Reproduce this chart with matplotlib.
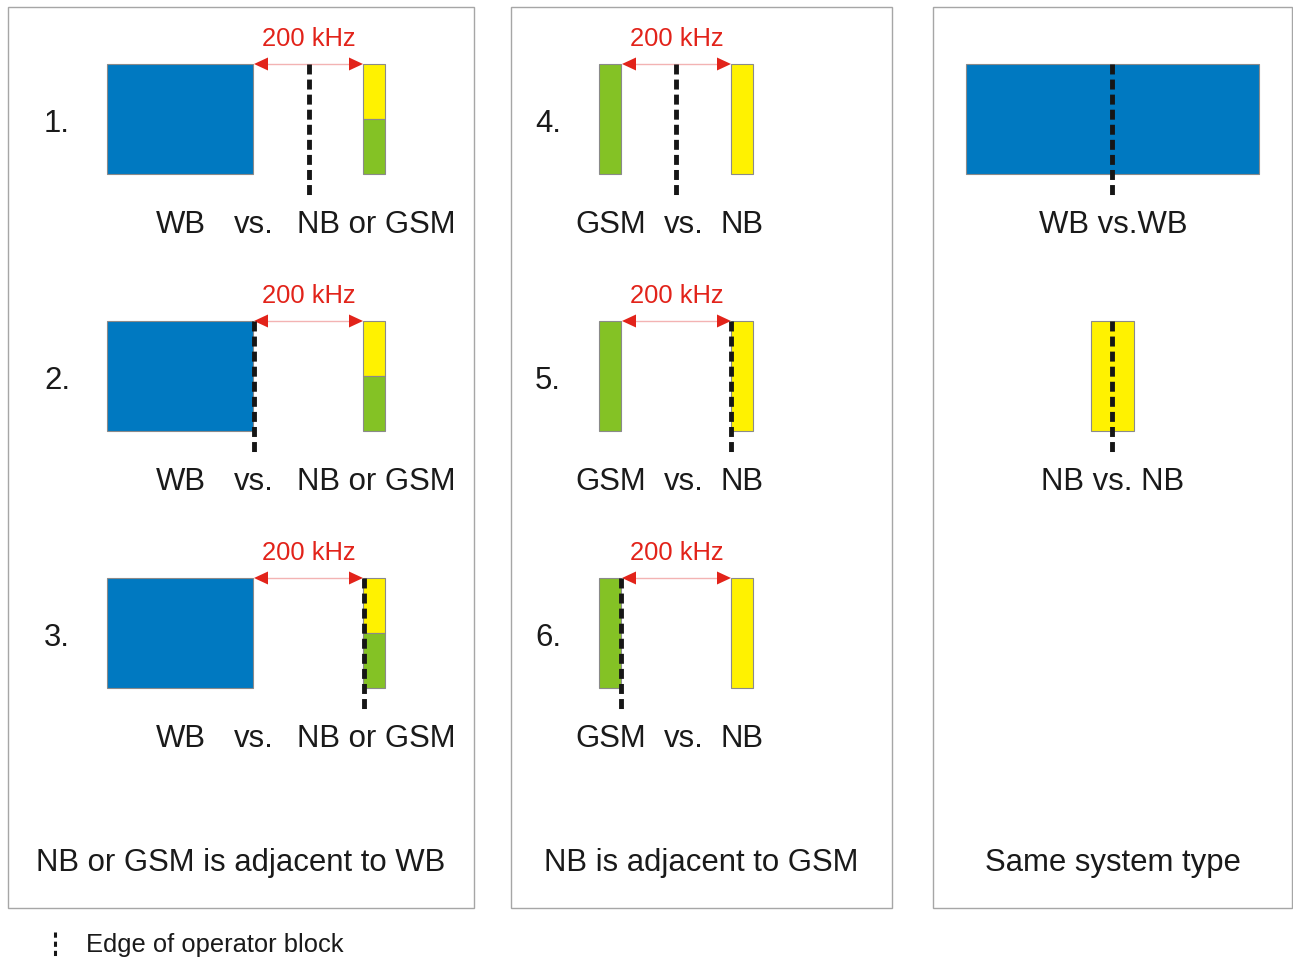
import matplotlib.pyplot as plt
from matplotlib.patches import Rectangle, Polygon

plt.rcParams['font.family'] = ['Liberation Sans', 'DejaVu Sans']

# colours
BLUE = '#0079c1'
YELLOW = '#fff200'
GREEN = '#84c225'
RED = '#e2231a'
PINK = '#f3b3b3'
EDGE = '#8a8a8a'
TXT = '#1a1a1a'

# layout data (pixel coordinates, y downwards)
panels = [(8, 7, 474, 908), (511, 7, 892, 908), (933, 7, 1292, 908)]
panel_titles = ['NB or GSM is adjacent to WB', 'NB is adjacent to GSM', 'Same system type']
row_tops = [64, 321, 578]
block_h = 110
dash_extra = 21
big = 22.4
small = 18.4

# panel 1: WB vs NB/GSM
p1_numbers = ['1.', '2.', '3.']
p1_edges = [309, 254, 364]
wb_x = (107, 253)
nbg_x = (363, 385)

# panel 2: GSM vs NB
p2_numbers = ['4.', '5.', '6.']
p2_edges = [676, 731, 621]
gsm_x = (599, 621)
nb_x = (731, 753)

fig = plt.figure(figsize=(12.93, 9.58), dpi=100)
ax = fig.add_axes([0, 0, 1, 1])
ax.set_xlim(0, 1293)
ax.set_ylim(958, 0)
ax.axis('off')


def rect(x0, x1, y0, y1, c):
    ax.add_patch(Rectangle((x0, y0), x1 - x0, y1 - y0, facecolor=c, edgecolor=EDGE, lw=0.8, zorder=2))


def edge_line(x, y0, y1):
    # 5 px wide, 10 px dash, ~5 px gap
    ax.plot([x, x], [y0, y1], color='#161616', lw=3.5, dashes=(2.05, 1.05), solid_capstyle='butt',
            dash_capstyle='butt', zorder=4)


def label(x, y, s, size=big, ha='center', color=TXT):
    ax.text(x, y + 5, s, fontsize=size, ha=ha, va='center', color=color)


def span_arrow(x0, x1, y, s):
    ax.plot([x0 + 12, x1 - 12], [y, y], color=PINK, lw=1.0, zorder=3)
    for tip, d in [(x0, 1), (x1, -1)]:
        ax.add_patch(Polygon([(tip, y), (tip + d * 14, y - 6.5), (tip + d * 14, y + 6.5)],
                             closed=True, facecolor=RED, edgecolor='none', zorder=3))
    label((x0 + x1) / 2, y - 30, s, size=small, color=RED)


# panel frames + titles
for (x0, y0, x1, y1), t in zip(panels, panel_titles):
    ax.add_patch(Rectangle((x0, y0), x1 - x0, y1 - y0, facecolor='none', edgecolor='#a6a6a6', lw=1.0))
    label((x0 + x1) / 2, 858, t)

# panel 1
for top, num, ex in zip(row_tops, p1_numbers, p1_edges):
    bot = top + block_h
    mid = top + block_h / 2
    rect(wb_x[0], wb_x[1], top, bot, BLUE)
    rect(nbg_x[0], nbg_x[1], top, mid, YELLOW)
    rect(nbg_x[0], nbg_x[1], mid, bot, GREEN)
    span_arrow(wb_x[1] + 1, nbg_x[0], top, '200 kHz')
    edge_line(ex, top, bot + dash_extra)
    label(57, mid, num)
    label(181, top + 156, 'WB')
    label(254, top + 156, 'vs.')
    label(297, top + 156, 'NB or GSM', ha='left')

# panel 2
for top, num, ex in zip(row_tops, p2_numbers, p2_edges):
    bot = top + block_h
    mid = top + block_h / 2
    rect(gsm_x[0], gsm_x[1], top, bot, GREEN)
    rect(nb_x[0], nb_x[1], top, bot, YELLOW)
    span_arrow(gsm_x[1] + 1, nb_x[0], top, '200 kHz')
    edge_line(ex, top, bot + dash_extra)
    label(548, mid, num)
    label(611, top + 156, 'GSM')
    label(684, top + 156, 'vs.')
    label(742, top + 156, 'NB')

# panel 3
rect(966, 1259, row_tops[0], row_tops[0] + block_h, BLUE)
edge_line(1112, row_tops[0], row_tops[0] + block_h + dash_extra)
label(1113, row_tops[0] + 156, 'WB vs.WB')
rect(1091, 1134, row_tops[1], row_tops[1] + block_h, YELLOW)
edge_line(1112, row_tops[1], row_tops[1] + block_h + dash_extra)
label(1113, row_tops[1] + 156, 'NB vs. NB')

# legend
ax.plot([55, 55], [932, 958], color='#161616', lw=2.2, dashes=(1.7, 1.3), dash_capstyle='butt')
label(86, 940, 'Edge of operator block', size=small, ha='left')

fig.savefig('out.png', dpi=100, facecolor='white')
